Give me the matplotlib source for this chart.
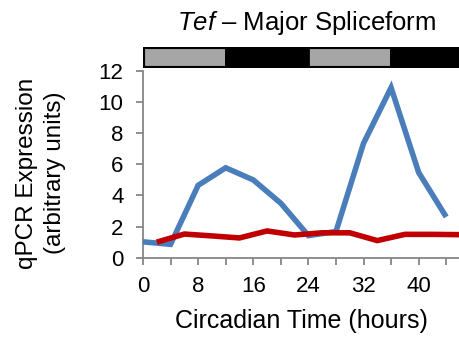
import matplotlib
matplotlib.use("Agg")
import matplotlib.pyplot as plt
from matplotlib.patches import Rectangle

plt.rcParams['font.family'] = ['Liberation Sans', 'DejaVu Sans']
plt.rcParams['mathtext.fontset'] = 'custom'
plt.rcParams['mathtext.it'] = 'Liberation Sans:italic'
plt.rcParams['mathtext.rm'] = 'Liberation Sans'

# Circadian time points (hours) and expression values
blue_hours = [0, 4, 8, 12, 16, 20, 24, 28, 32, 36, 40, 44]
blue_values = [1.02, 0.86, 4.65, 5.78, 5.0, 3.5, 1.42, 1.68, 7.35, 10.93, 5.48, 2.62]

red_hours = [2, 6, 10, 14, 18, 22, 26, 30, 34, 38, 42, 46]
red_values = [1.0, 1.52, 1.4, 1.27, 1.72, 1.46, 1.6, 1.6, 1.1, 1.5, 1.5, 1.48]

# Light (subjective day) / dark phases for the bar above the plot
phase_starts = [0, 12, 24, 36]
phase_ends = [12, 24, 36, 48]
phase_colors = ['#a6a6a6', 'black', '#a6a6a6', 'black']

x_ticks = [0, 8, 16, 24, 32, 40]
y_ticks = [0, 2, 4, 6, 8, 10, 12]

W, H = 460, 337
fig = plt.figure(figsize=(W / 100, H / 100), dpi=100)

ax_l, ax_r, ax_t, ax_b = 143, 460, 71, 257.7
ax = fig.add_axes([ax_l / W, 1 - ax_b / H, (ax_r - ax_l) / W, (ax_b - ax_t) / H])

ax.plot(blue_hours, blue_values, color='#4a7ebb', lw=4.0, solid_joinstyle='miter',
        solid_capstyle='butt', zorder=3)
ax.plot(red_hours, red_values, color='#c00000', lw=4.0, solid_joinstyle='miter',
        solid_capstyle='butt', zorder=4)

xmax = 46
ax.set_xlim(0, xmax)
ax.set_ylim(0, 12)
ax.set_xticks(x_ticks)
ax.set_xticks(range(0, xmax + 1, 4), minor=True)
ax.set_yticks(y_ticks)
for s in ['top', 'right']:
    ax.spines[s].set_visible(False)
for s in ['left', 'bottom']:
    ax.spines[s].set_color('#868686')
    ax.spines[s].set_linewidth(1.3)
ax.tick_params(axis='both', which='both', direction='out', color='#868686',
               width=1.3, length=5, labelsize=16)
ax.tick_params(axis='x', which='both', pad=8)
ax.tick_params(axis='y', pad=9)
ax.tick_params(axis='x', which='minor', length=5)

# Light/dark bar
bar = fig.add_axes([ax_l / W, 1 - 68 / H, (ax_r - ax_l) / W, 21 / H])
bar.set_xlim(0, xmax)
bar.set_ylim(0, 1)
bar_end = 45.6
for s0, s1, c in zip(phase_starts, phase_ends, phase_colors):
    s1 = min(s1, bar_end)
    bar.add_patch(Rectangle((s0, 0), s1 - s0, 1, facecolor=c, edgecolor='black', lw=2))
bar.add_patch(Rectangle((0, 0), bar_end, 1, facecolor='none', edgecolor='black', lw=3))
bar.axis('off')

fig.text(307 / W, 1 - 23 / H, r'$\mathit{Tef}$ – Major Spliceform', ha='center',
         va='center', fontsize=18.5)
fig.text(301 / W, 1 - 321 / H, 'Circadian Time (hours)', ha='center', va='center',
         fontsize=18)
fig.text(41 / W, 1 - 173 / H, 'qPCR Expression\n(arbitrary units)', ha='center',
         va='center', rotation=90, fontsize=17.5, linespacing=1.35, multialignment='center')

fig.savefig('out.png', dpi=100)
